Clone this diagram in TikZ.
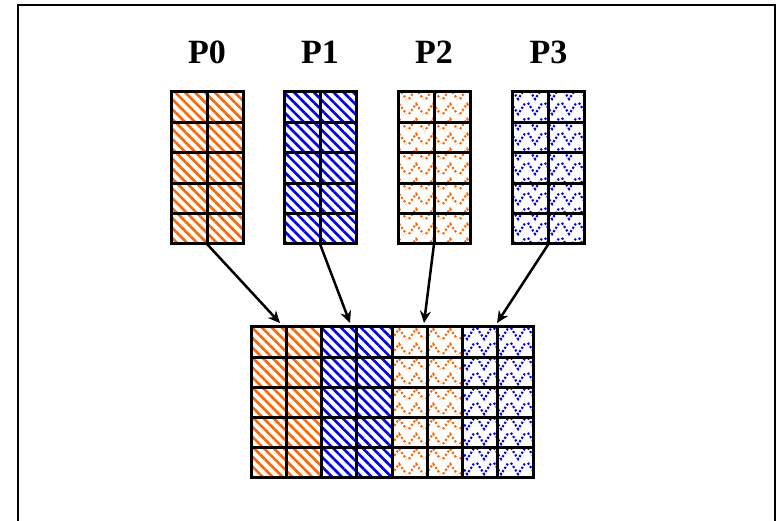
\documentclass[tikz,border=0pt]{standalone}
\usepackage{fontspec}
\setmainfont{Liberation Serif}
\usetikzlibrary{patterns.meta,calc,arrows.meta}
\definecolor{porange}{HTML}{FF6600}
\definecolor{pblue}{HTML}{0000FF}
\tikzdeclarepattern{name=Vees, type=uncolored,
  bottom left={(0pt,0pt)}, top right={(17pt,15pt)}, tile size={(17pt,15pt)},
  code={\draw[line width=2.2pt, dash pattern=on 2.2pt off 2pt] (1pt,14pt) -- (8.5pt,2pt) -- (16pt,14pt);}}
\tikzdeclarepattern{name=Hats, type=uncolored,
  bottom left={(0pt,0pt)}, top right={(17pt,15pt)}, tile size={(17pt,15pt)},
  code={\draw[line width=2.2pt, dash pattern=on 2.2pt off 2.2pt] (1pt,2pt) -- (8.5pt,13pt) -- (16pt,2pt);}}
\tikzset{
  stripesO/.style={pattern={Lines[angle=-45,distance=7pt,line width=2.6pt]}, pattern color=porange},
  stripesB/.style={pattern={Lines[angle=-45,distance=7pt,line width=2.6pt]}, pattern color=pblue},
  hatsO/.style={pattern=Hats, pattern color=porange},
  veesB/.style={pattern=Vees, pattern color=pblue},
  cellbox/.style={minimum width=72pt, minimum height=152pt, inner sep=0pt, outer sep=0pt},
  gridline/.style={line width=3pt},
  lbl/.style={font=\bfseries\fontsize{34}{34}\selectfont, inner sep=0pt},
  arr/.style={line width=2.5pt, -{Stealth[length=12pt,width=11pt]}}
}
\begin{document}
\begin{tikzpicture}[x=1pt,y=-1pt]
\useasboundingbox (0,0) rectangle (780,521);
\draw[line width=2pt] (18,521) -- (18,5.5) -- (775,5.5) -- (775,521);

\node[lbl] (l0) at (207,52) {P0};
\node[lbl] (l1) at (320,52) {P1};
\node[lbl] (l2) at (434,52) {P2};
\node[lbl] (l3) at (548.5,52) {P3};

\node[cellbox, stripesO] (p0) at (207,168) {};
\node[cellbox, stripesB] (p1) at (320,168) {};
\node[cellbox, hatsO] (p2) at (434,168) {};
\node[cellbox, veesB] (p3) at (548.5,168) {};

\foreach \n in {p0,p1,p2,p3}{
  \foreach \i in {1,...,4}
    \draw[gridline] ($(\n.north west)!\i/5!(\n.south west)$) -- ($(\n.north east)!\i/5!(\n.south east)$);
  \draw[gridline] (\n.north) -- (\n.south);
  \draw[gridline] (\n.north west) rectangle (\n.south east);
}

\node[minimum width=282pt, minimum height=151pt, inner sep=0pt, outer sep=0pt] (all) at (392,402.5) {};
\fill[stripesO] (all.north west) rectangle ($(all.south west)!0.25!(all.south east)$);
\fill[stripesB] ($(all.north west)!0.25!(all.north east)$) rectangle ($(all.south west)!0.5!(all.south east)$);
\fill[hatsO] ($(all.north west)!0.5!(all.north east)$) rectangle ($(all.south west)!0.75!(all.south east)$);
\fill[veesB] ($(all.north west)!0.75!(all.north east)$) rectangle (all.south east);
\foreach \i in {1,...,4}
  \draw[gridline] ($(all.north west)!\i/5!(all.south west)$) -- ($(all.north east)!\i/5!(all.south east)$);
\foreach \j in {1,...,7}
  \draw[gridline] ($(all.north west)!\j/8!(all.north east)$) -- ($(all.south west)!\j/8!(all.south east)$);
\draw[gridline] (all.north west) rectangle (all.south east);

\coordinate (t0) at ($(all.north west)+(29,-4)$);
\coordinate (t1) at ($(all.north west)+(99,-4)$);
\coordinate (t2) at ($(all.north west)+(173,-4)$);
\coordinate (t3) at ($(all.north west)+(246,-4)$);
\draw[arr] (p0.south) -- (t0);
\draw[arr] (p1.south) -- (t1);
\draw[arr] (p2.south) -- (t2);
\draw[arr] (p3.south) -- (t3);
\end{tikzpicture}
\end{document}
